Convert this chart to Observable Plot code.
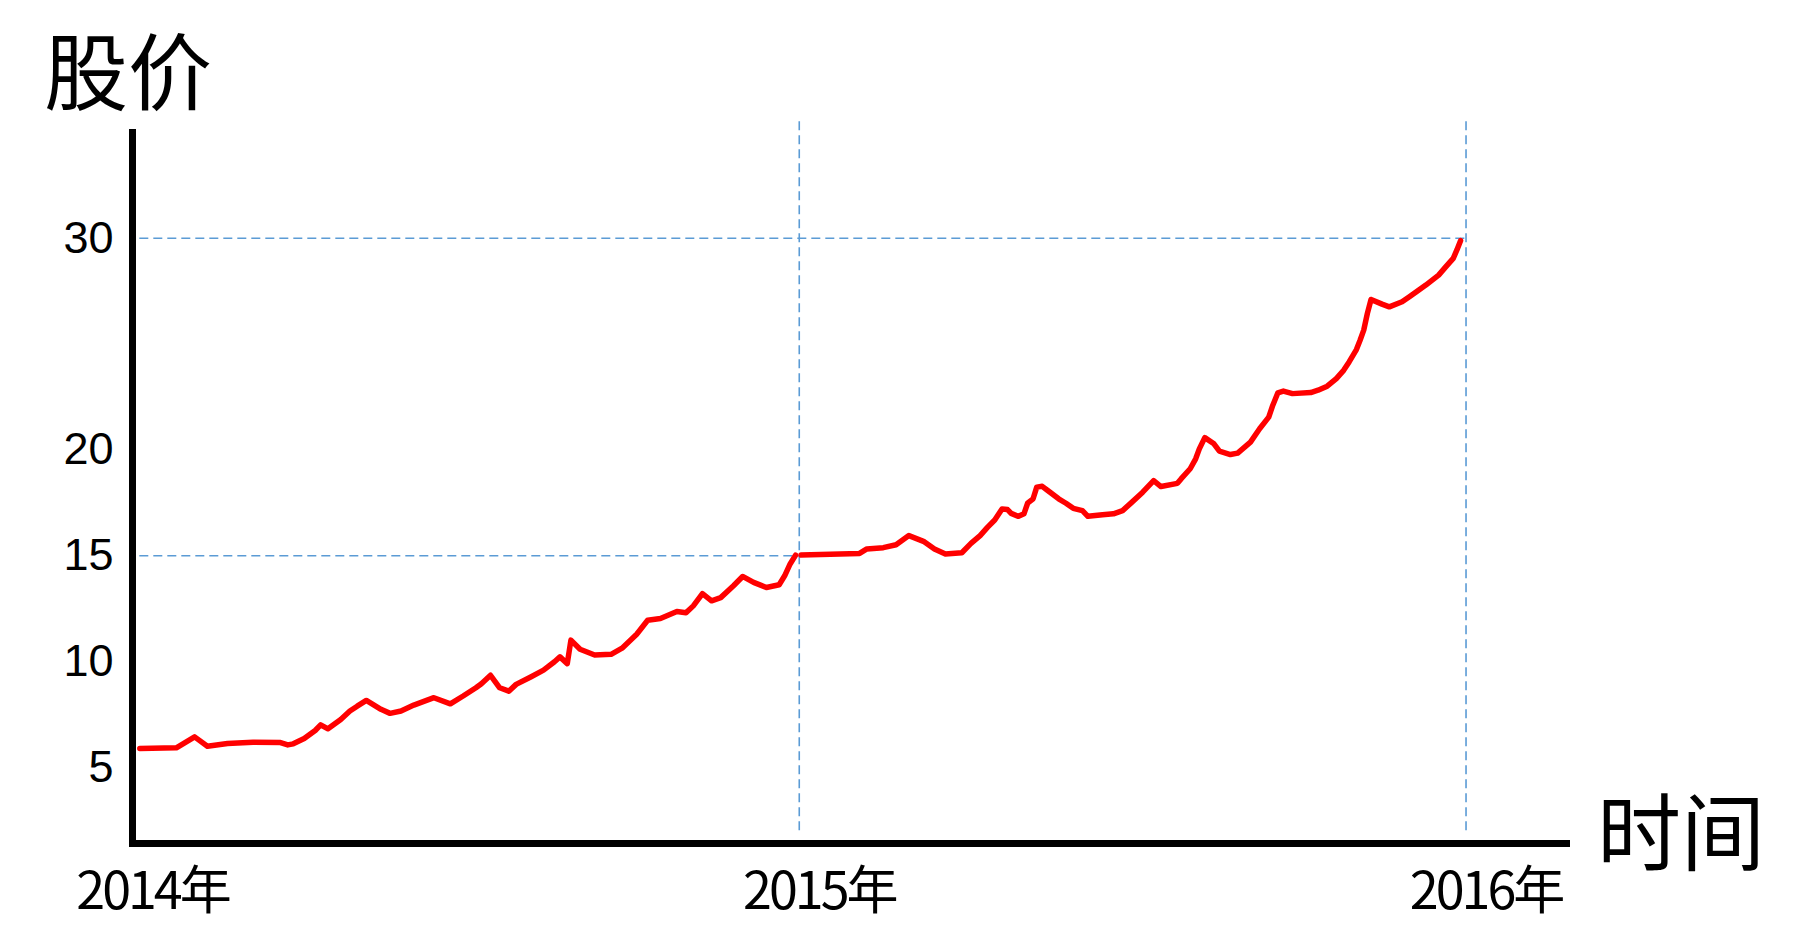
<!DOCTYPE html>
<html>
<head>
<meta charset="utf-8">
<script src="https://cdn.jsdelivr.net/npm/d3@7"></script>
<script src="https://cdn.jsdelivr.net/npm/@observablehq/plot@0.6"></script>
<style>
  html, body { margin: 0; padding: 0; background: #ffffff; }
  #wrap { position: relative; width: 1806px; height: 951px; overflow: hidden; }
  .big { position: absolute; font-family: "Noto Sans CJK SC", sans-serif; font-size: 84px; line-height: 84px; color: #000; white-space: nowrap; }
  #ytitle { left: 44px; top: 26px; }
  #xtitle { left: 1597px; top: 786px; }
  .stockchart g[aria-label="x-axis tick label"] text { letter-spacing: -3px; }
</style>
</head>
<body>
<div id="wrap">
  <div id="chart"></div>
  <div class="big" id="ytitle">股价</div>
  <div class="big" id="xtitle">时间</div>
</div>
<script>
// ---- data ----
const dates2014 = ["2014-01-05","2014-01-25","2014-02-04","2014-02-11","2014-02-22","2014-03-08","2014-03-23","2014-03-27","2014-03-30","2014-04-05","2014-04-11","2014-04-14","2014-04-18","2014-04-25","2014-04-30","2014-05-04","2014-05-09","2014-05-17","2014-05-22","2014-05-28","2014-06-04","2014-06-15","2014-06-24","2014-07-01","2014-07-08","2014-07-11","2014-07-16","2014-07-21","2014-07-26","2014-07-30","2014-08-07","2014-08-14","2014-08-20","2014-08-23","2014-08-27","2014-08-29","2014-09-03","2014-09-11","2014-09-20","2014-09-26","2014-10-04","2014-10-10","2014-10-17","2014-10-26","2014-10-31","2014-11-04","2014-11-09","2014-11-14","2014-11-19","2014-11-26","2014-12-01","2014-12-07","2014-12-14","2014-12-21","2014-12-24","2014-12-27","2014-12-30"];
const prices2014 = [5.89,5.92,6.44,6.00,6.13,6.19,6.17,6.06,6.11,6.36,6.74,7.01,6.82,7.26,7.66,7.89,8.16,7.74,7.55,7.66,7.94,8.29,8.00,8.37,8.76,8.95,9.35,8.76,8.60,8.92,9.27,9.59,9.99,10.22,9.90,11.01,10.58,10.31,10.34,10.63,11.29,11.95,12.03,12.36,12.30,12.63,13.21,12.87,13.02,13.58,14.02,13.74,13.50,13.63,14.05,14.61,15.03];

const dates2015 = ["2015-01-02","2015-02-03","2015-02-07","2015-02-16","2015-02-23","2015-03-02","2015-03-10","2015-03-16","2015-03-22","2015-03-31","2015-04-05","2015-04-10","2015-04-14","2015-04-18","2015-04-22","2015-04-25","2015-04-27","2015-05-01","2015-05-04","2015-05-06","2015-05-09","2015-05-11","2015-05-14","2015-05-17","2015-05-23","2015-05-27","2015-05-31","2015-06-05","2015-06-08","2015-06-16","2015-06-22","2015-06-27","2015-07-02","2015-07-08","2015-07-14","2015-07-18","2015-07-27","2015-07-29","2015-08-03","2015-08-06","2015-08-08","2015-08-11","2015-08-16","2015-08-19","2015-08-25","2015-08-29","2015-09-05","2015-09-10","2015-09-15","2015-09-17","2015-09-20","2015-09-23","2015-09-28","2015-10-08","2015-10-12","2015-10-17","2015-10-22","2015-10-26","2015-10-29","2015-11-02","2015-11-04","2015-11-06","2015-11-08","2015-11-10","2015-11-16","2015-11-20","2015-11-27","2015-12-01","2015-12-06","2015-12-10","2015-12-17","2015-12-21","2015-12-25","2015-12-27","2015-12-29"];
const prices2015 = [15.03,15.11,15.32,15.38,15.52,15.95,15.68,15.32,15.08,15.14,15.58,15.95,16.34,16.69,17.21,17.18,17.00,16.86,16.98,17.48,17.69,18.24,18.28,18.08,17.69,17.48,17.24,17.13,16.86,16.94,16.98,17.13,17.52,18.00,18.55,18.27,18.42,18.63,19.11,19.58,20.05,20.58,20.29,19.94,19.78,19.85,20.37,21.00,21.55,22.06,22.70,22.78,22.66,22.71,22.82,23.01,23.37,23.76,24.16,24.74,25.18,25.66,26.45,27.11,26.89,26.76,27.00,27.24,27.55,27.79,28.26,28.66,29.05,29.45,29.89];

const yTicks = [5, 10, 15, 20, 30];
const xTicks = ["2014-01-01", "2015-01-01", "2016-01-01"];
const xTickLabels = ["2014年", "2015年", "2016年"];

// reference (dashed) guides: year boundaries and the prices reached there
const refYears = ["2015-01-01", "2016-01-01"];
const refPrices = [15, 30];

// ---- build tables ----
const series2014 = dates2014.map((d, i) => ({date: new Date(d), price: prices2014[i]}));
const series2015 = dates2015.map((d, i) => ({date: new Date(d), price: prices2015[i]}));
const xTickDates = xTicks.map(d => new Date(d));
const labelOf = new Map(xTickDates.map((d, i) => [+d, xTickLabels[i]]));
const guides = refPrices.map((p, i) => ({price: p, until: new Date(refYears[i])}));

const blue = "#5B9BD5";
const red = "#FF0000";

const chart = Plot.plot({
  width: 1806,
  height: 951,
  marginLeft: 132,
  marginRight: 240,
  marginTop: 132,
  marginBottom: 108,
  className: "stockchart",
  style: {background: "#ffffff", color: "#000000"},
  x: {type: "utc", domain: [new Date("2014-01-01"), new Date("2016-02-25")], axis: null, label: null},
  y: {domain: [1.4, 35], axis: null, label: null},
  marks: [
    // dashed guides
    Plot.ruleX(refYears.map(d => new Date(d)), {x: d => d, y1: () => 2.0, y2: () => 35.6, stroke: blue, strokeWidth: 1.6, strokeDasharray: "9,5"}),
    Plot.ruleY(guides, {y: "price", x1: () => new Date("2014-01-05"), x2: "until", stroke: blue, strokeWidth: 1.6, strokeDasharray: "9,5"}),
    // price line (two yearly segments)
    Plot.line(series2014, {x: "date", y: "price", stroke: red, strokeWidth: 5.5, strokeLinejoin: "round"}),
    Plot.line(series2015, {x: "date", y: "price", stroke: red, strokeWidth: 5.5, strokeLinejoin: "round"}),
    // axes lines
    Plot.frame({anchor: "left", stroke: "#000", strokeWidth: 7, strokeLinecap: "square"}),
    Plot.frame({anchor: "bottom", stroke: "#000", strokeWidth: 7, strokeLinecap: "square"}),
    // tick labels
    Plot.axisY(yTicks, {anchor: "left", tickSize: 0, tickPadding: 19, fontSize: 45, fontFamily: "'Liberation Sans', Arial, sans-serif", label: null, fill: "#000"}),
    Plot.axisX(xTickDates, {anchor: "bottom", tickSize: 0, tickPadding: 29, fontSize: 52, dx: 20, fontFamily: "'Noto Sans CJK SC', sans-serif", tickFormat: d => labelOf.get(+d), label: null, fill: "#000"})
  ]
});
document.getElementById("chart").appendChild(chart);
</script>
</body>
</html>
